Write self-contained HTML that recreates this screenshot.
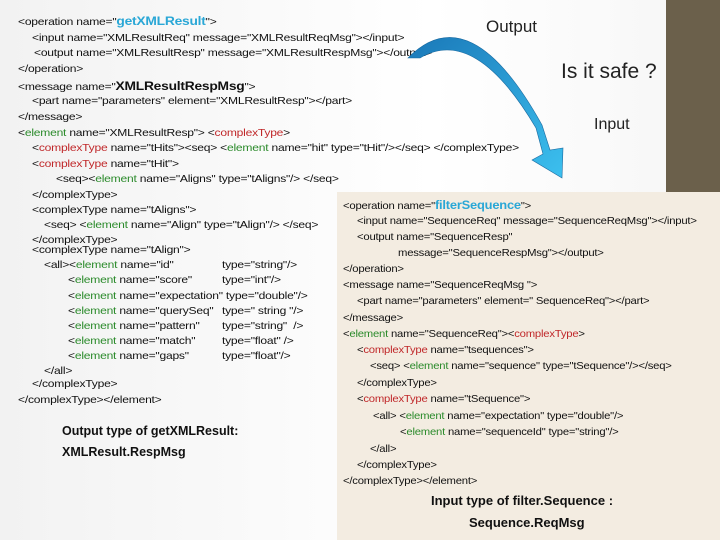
<!DOCTYPE html>
<html><head><meta charset="utf-8"><style>
body{margin:0;width:720px;height:540px;overflow:hidden;position:relative;background:linear-gradient(90deg,#f2f2f2,#fff 60%,#f6f6f6);font-family:"Liberation Sans Narrow","Liberation Sans",sans-serif;}
.l{position:absolute;font-size:10.5px;color:#111;white-space:pre;line-height:12px;transform:translateY(-6px) scaleX(1.15);transform-origin:left center;letter-spacing:-0.2px}
.R .l{transform:translateY(-6px) scaleX(1.075)}
.g{color:#2a8a2a}.r{color:#c0282a}.b{color:#2aa7d6;font-weight:bold;font-size:12px}.k{font-weight:bold;font-size:12px}
.big{position:absolute;font-family:"Liberation Sans",sans-serif;color:#222}
#dk{position:absolute;left:666px;top:0;width:54px;height:192px;background:#6b604b}
#bx{position:absolute;left:337px;top:192px;width:383px;height:348px;background:#f3ece1}
.bt{position:absolute;font-weight:bold;font-size:13px;color:#111;font-family:"Liberation Sans",sans-serif;transform:translateY(-8px)}
</style></head><body>
<div id="dk"></div><div id="bx"></div>
<div class="l" style="left:18px;top:21px">&lt;operation name="<span class="b">getXMLResult</span>"&gt;</div>
<div class="l" style="left:32px;top:38px">&lt;input name="XMLResultReq" message="XMLResultReqMsg"&gt;&lt;/input&gt;</div>
<div class="l" style="left:34px;top:53px">&lt;output name="XMLResultResp" message="XMLResultRespMsg"&gt;&lt;/output&gt;</div>
<div class="l" style="left:18px;top:69px">&lt;/operation&gt;</div>
<div class="l" style="left:18px;top:86px">&lt;message name="<span class="k">XMLResultRespMsg</span>"&gt;</div>
<div class="l" style="left:32px;top:101px">&lt;part name="parameters" element="XMLResultResp"&gt;&lt;/part&gt;</div>
<div class="l" style="left:18px;top:117px">&lt;/message&gt;</div>
<div class="l" style="left:18px;top:133px">&lt;<span class="g">element</span> name="XMLResultResp"&gt; &lt;<span class="r">complexType</span>&gt;</div>
<div class="l" style="left:32px;top:148px">&lt;<span class="r">complexType</span> name="tHits"&gt;&lt;seq&gt; &lt;<span class="g">element</span> name="hit" type="tHit"/&gt;&lt;/seq&gt; &lt;/complexType&gt;</div>
<div class="l" style="left:32px;top:164px">&lt;<span class="r">complexType</span> name="tHit"&gt;</div>
<div class="l" style="left:56px;top:179px">&lt;seq&gt;&lt;<span class="g">element</span> name="Aligns" type="tAligns"/&gt; &lt;/seq&gt;</div>
<div class="l" style="left:32px;top:195px">&lt;/complexType&gt;</div>
<div class="l" style="left:32px;top:210px">&lt;complexType name="tAligns"&gt;</div>
<div class="l" style="left:44px;top:225px">&lt;seq&gt; &lt;<span class="g">element</span> name="Align" type="tAlign"/&gt; &lt;/seq&gt;</div>
<div class="l" style="left:32px;top:240px">&lt;/complexType&gt;</div>
<div class="l" style="left:32px;top:250px">&lt;complexType name="tAlign"&gt;</div>
<div class="l" style="left:44px;top:265px">&lt;all&gt;&lt;<span class="g">element</span> name="id"</div><div class="l" style="left:222px;top:265px">type="string"/&gt;</div>
<div class="l" style="left:68px;top:280px">&lt;<span class="g">element</span> name="score"</div><div class="l" style="left:222px;top:280px">type="int"/&gt;</div>
<div class="l" style="left:68px;top:296px">&lt;<span class="g">element</span> name="expectation" type="double"/&gt;</div>
<div class="l" style="left:68px;top:311px">&lt;<span class="g">element</span> name="querySeq"</div><div class="l" style="left:222px;top:311px">type=" string "/&gt;</div>
<div class="l" style="left:68px;top:326px">&lt;<span class="g">element</span> name="pattern"</div><div class="l" style="left:222px;top:326px">type="string"  /&gt;</div>
<div class="l" style="left:68px;top:341px">&lt;<span class="g">element</span> name="match"</div><div class="l" style="left:222px;top:341px">type="float" /&gt;</div>
<div class="l" style="left:68px;top:356px">&lt;<span class="g">element</span> name="gaps"</div><div class="l" style="left:222px;top:356px">type="float"/&gt;</div>
<div class="l" style="left:44px;top:371px">&lt;/all&gt;</div>
<div class="l" style="left:32px;top:384px">&lt;/complexType&gt;</div>
<div class="l" style="left:18px;top:400px">&lt;/complexType&gt;&lt;/element&gt;</div>
<div class="bt" style="left:62px;top:432px;font-size:12.5px">Output type of getXMLResult:</div>
<div class="bt" style="left:62px;top:453px;font-size:12.5px">XMLResult.RespMsg</div>
<div class="big" style="left:486px;top:17px;font-size:17px">Output</div>
<div class="big" style="left:561px;top:60px;font-size:21px">Is it safe ?</div>
<div class="big" style="left:594px;top:116px;font-size:16px">Input</div>
<svg style="position:absolute;left:0;top:0" width="720" height="540">
<defs><linearGradient id="gr" x1="0" y1="0" x2="1" y2="1"><stop offset="0" stop-color="#1a78b8"/><stop offset="1" stop-color="#3cc0ef"/></linearGradient></defs>
<path d="M408,58 Q470,-5 542,125 L550,150 L563,148 L562,178 L532,160 L543,154 L536,128 Q475,25 420,58 Z" fill="url(#gr)" stroke="#1a6aa0" stroke-width="0.6"/>
</svg>
<div class="R">
<div class="l" style="left:343px;top:205px">&lt;operation name="<span class="b">filterSequence</span>"&gt;</div>
<div class="l" style="left:357px;top:221px">&lt;input name="SequenceReq" message="SequenceReqMsg"&gt;&lt;/input&gt;</div>
<div class="l" style="left:357px;top:237px">&lt;output name="SequenceResp"</div>
<div class="l" style="left:398px;top:253px">message="SequenceRespMsg"&gt;&lt;/output&gt;</div>
<div class="l" style="left:343px;top:269px">&lt;/operation&gt;</div>
<div class="l" style="left:343px;top:285px">&lt;message name="SequenceReqMsg "&gt;</div>
<div class="l" style="left:357px;top:301px">&lt;part name="parameters" element=" SequenceReq"&gt;&lt;/part&gt;</div>
<div class="l" style="left:343px;top:318px">&lt;/message&gt;</div>
<div class="l" style="left:343px;top:334px">&lt;<span class="g">element</span> name="SequenceReq"&gt;&lt;<span class="r">complexType</span>&gt;</div>
<div class="l" style="left:357px;top:350px">&lt;<span class="r">complexType</span> name="tsequences"&gt;</div>
<div class="l" style="left:370px;top:366px">&lt;seq&gt; &lt;<span class="g">element</span> name="sequence" type="tSequence"/&gt;&lt;/seq&gt;</div>
<div class="l" style="left:357px;top:383px">&lt;/complexType&gt;</div>
<div class="l" style="left:357px;top:399px">&lt;<span class="r">complexType</span> name="tSequence"&gt;</div>
<div class="l" style="left:373px;top:416px">&lt;all&gt; &lt;<span class="g">element</span> name="expectation" type="double"/&gt;</div>
<div class="l" style="left:400px;top:432px">&lt;<span class="g">element</span> name="sequenceId" type="string"/&gt;</div>
<div class="l" style="left:370px;top:449px">&lt;/all&gt;</div>
<div class="l" style="left:357px;top:465px">&lt;/complexType&gt;</div>
<div class="l" style="left:343px;top:481px">&lt;/complexType&gt;&lt;/element&gt;</div>
</div>
<div class="bt" style="left:431px;top:501px">Input type of filter.Sequence :</div>
<div class="bt" style="left:469px;top:523px">Sequence.ReqMsg</div>
</body></html>
